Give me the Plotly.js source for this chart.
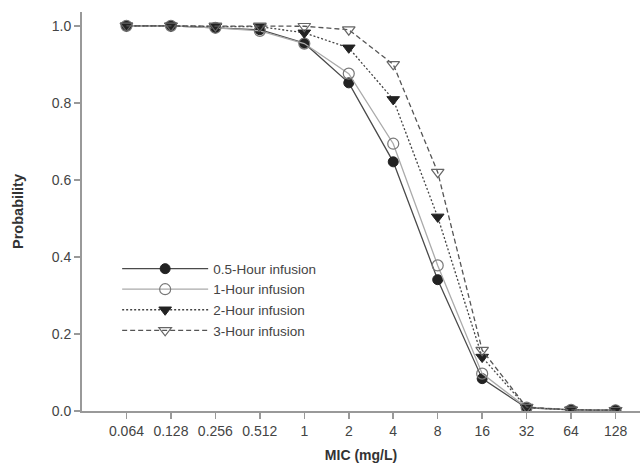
<!DOCTYPE html>
<html>
<head>
<meta charset="utf-8">
<script src="https://cdn.plot.ly/plotly-3.0.1.min.js"></script>
<style>html,body{margin:0;padding:0;background:#fff}#chart{width:642px;height:470px}</style>
</head>
<body>
<div id="chart"></div>
<script>
var micLabels = ["0.064","0.128","0.256","0.512","1","2","4","8","16","32","64","128"];
var hour05 = [1.0, 1.0, 0.995, 0.99, 0.955, 0.852, 0.647, 0.341, 0.084, 0.008, 0.003, 0.002];
var hour1  = [1.0, 1.0, 0.995, 0.987, 0.954, 0.876, 0.694, 0.378, 0.097, 0.009, 0.003, 0.002];
var hour2  = [1.0, 1.0, 0.998, 0.998, 0.982, 0.943, 0.809, 0.504, 0.140, 0.009, 0.003, 0.002];
var hour3  = [1.0, 1.0, 1.0, 1.0, 0.999, 0.990, 0.900, 0.620, 0.158, 0.010, 0.003, 0.002];
var seriesNames = ["0.5-Hour infusion","1-Hour infusion","2-Hour infusion","3-Hour infusion"];
var yTicks = [0, 0.2, 0.4, 0.6, 0.8, 1.0];
var yTickText = ['0.0','0.2','0.4','0.6','0.8','1.0'];

var traces = [
  {y: hour05, name: seriesNames[0], line:{color:'#4a4a4a', width:1.3, dash:'solid'},
   marker:{symbol:'circle', size:10, color:'#222', line:{color:'#222', width:1}}},
  {y: hour1, name: seriesNames[1], line:{color:'#aaa', width:1.3, dash:'solid'},
   marker:{symbol:'circle-open', size:11, color:'#777', line:{color:'#777', width:1.2}}},
  {y: hour2, name: seriesNames[2], line:{color:'#444', width:1.3, dash:'2px,2px'},
   marker:{symbol:'triangle-down', size:11, color:'#222', line:{color:'#222', width:1}}},
  {y: hour3, name: seriesNames[3], line:{color:'#555', width:1.3, dash:'5px,3px'},
   marker:{symbol:'triangle-down-open', size:11, color:'#666', line:{color:'#666', width:1.2}}}
].map(function(t){
  t.x = micLabels; t.type = 'scatter'; t.mode = 'lines+markers'; return t;
});

var layout = {
  width: 642, height: 470,
  margin: {l: 82, r: 2, t: 12, b: 59},
  paper_bgcolor: '#fff', plot_bgcolor: '#fff',
  font: {family: 'Liberation Sans, Arial, sans-serif', size: 14, color: '#444'},
  showlegend: true,
  legend: {x: 0.063, y: 0.395, xanchor: 'left', yanchor: 'top', bgcolor: 'rgba(0,0,0,0)',
           itemwidth: 86, tracegroupgap: 0, font: {size: 13.5, color: '#444'}},
  xaxis: {
    type: 'category', range: [-1, 11.55], showgrid: false, zeroline: false,
    showline: true, linecolor: '#999', linewidth: 2,
    ticks: 'outside', ticklen: 6, tickcolor: '#999', tickwidth: 1.5,
    tickfont: {size: 14, color: '#444'},
    title: {text: '<b>MIC (mg/L)</b>', font: {size: 14, color: '#333'}, standoff: 12}
  },
  yaxis: {
    range: [0, 1.036], showgrid: false, zeroline: false,
    showline: true, linecolor: '#999', linewidth: 2,
    ticks: 'outside', ticklen: 6, tickcolor: '#999', tickwidth: 1.5,
    tickvals: yTicks, ticktext: yTickText,
    tickfont: {size: 14, color: '#444'},
    title: {text: '<b>Probability</b>', font: {size: 14.5, color: '#333'}, standoff: 25}
  }
};

Plotly.newPlot('chart', traces, layout, {displayModeBar: false, staticPlot: true});
</script>
</body>
</html>
